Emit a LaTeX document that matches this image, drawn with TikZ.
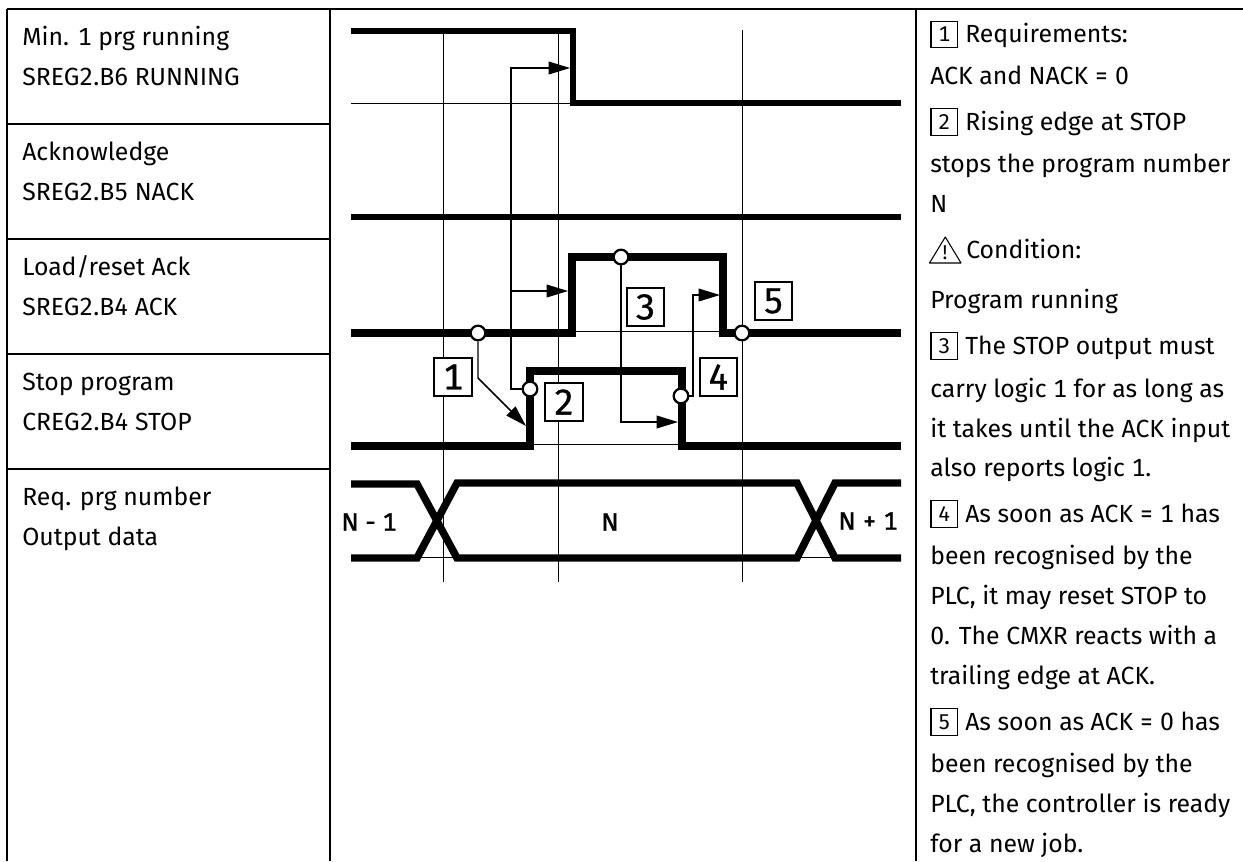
\documentclass[tikz,border=0pt]{standalone}
\usepackage{fontspec}
\setmainfont[Numbers=Monospaced]{Fira Sans}
\newfontfamily\medfont[FakeBold=1.4,Numbers=Monospaced]{Fira Sans}
\newfontfamily\tagfont[FakeBold=.8,Numbers=Monospaced]{Fira Sans}
\usetikzlibrary{arrows.meta}
\tikzset{
  tableline/.style={line width=1.6pt},
  gridline/.style={line width=.7pt},
  trace/.style={line width=5.6pt, miter limit=10},
  conn/.style={line width=1.1pt},
  txt/.style={anchor=base west, inner sep=0pt, font=\fontsize{18.6}{23}\selectfont},
  buslabel/.style={inner sep=0pt, font=\fontsize{19}{23}\medfont},
  pin/.style={circle, draw, fill=white, line width=1.7pt, inner sep=0pt, minimum size=11pt},
  tag/.style={draw, fill=white, line width=1.6pt, inner sep=0pt, minimum size=28pt, font=\fontsize{27}{27}\tagfont},
  smalltag/.style={draw, line width=.8pt, inner sep=0pt, minimum size=20pt, font=\fontsize{16}{16}\selectfont}
}
\begin{document}
\begin{tikzpicture}[x=.75pt, y=-.75pt, >={Triangle[length=16pt,width=9.5pt]}]
\useasboundingbox (0,0) rectangle (1243,861);
% table
\draw[tableline] (7,9) -- (1243,9);
\draw[tableline] (7,9) -- (7,861);
\draw[tableline] (330,9) -- (330,861);
\draw[tableline] (916,9) -- (916,861);
\foreach \y in {124,239,354,469} \draw[tableline] (7,\y) -- (330,\y);
% signal names
\node[txt] (running) at (22,45) {Min. 1 prg running};
\node[txt] (runningreg) at (22,85) {SREG2.B6 RUNNING};
\node[txt] (ack) at (22,160) {Acknowledge};
\node[txt] (ackreg) at (22,200) {SREG2.B5 NACK};
\node[txt] (load) at (22,275) {Load/reset Ack};
\node[txt] (loadreg) at (22,315) {SREG2.B4 ACK};
\node[txt] (stop) at (22,390) {Stop program};
\node[txt] (stopreg) at (22,430) {CREG2.B4 STOP};
\node[txt] (req) at (22,505) {Req. prg number};
\node[txt] (reqout) at (22,545) {Output data};
% time marks
\draw[gridline] (443,31) -- (443,582);
\draw[gridline] (558,31) -- (558,582);
\draw[gridline] (742,30) -- (742,582);
\draw[gridline] (351,103) -- (573,103);
\draw[gridline] (572,331) -- (723,331);
\draw[gridline] (530,444) -- (682,444);
\draw[gridline] (417,557) -- (457,557);
\draw[gridline] (797,557) -- (835,557);
% signals
\draw[trace, line width=4.9pt] (351,31) -- (573,31) -- (573,103) -- (901,103);
\draw[trace, line width=5.2pt] (351,217) -- (901,217);
\draw[trace] (351,333) -- (572,333) -- (572,257) -- (723,257) -- (723,333) -- (901,333);
\draw[trace] (351,446) -- (530,446) -- (530,371) -- (682,371) -- (682,446) -- (901,446);
\draw[trace] (351,484) -- (417,484) -- (457,558) -- (797,558) -- (835,483) -- (901,483);
\draw[trace] (351,558) -- (417,558) -- (457,483) -- (797,483) -- (835,558) -- (901,558);
\node[buslabel] (prev) at (369,522) {N - 1};
\node[buslabel] (cur) at (610,522) {N};
\node[buslabel] (next) at (868,521) {N + 1};
% events
\node[pin] (c1) at (478,333) {};
\node[pin] (c2) at (530,389) {};
\node[pin] (c3) at (621,257) {};
\node[pin] (c4) at (681,396) {};
\node[pin] (c5) at (742,333) {};
\coordinate (turn1) at (478,378);
\coordinate (tip1) at (526,426);
\coordinate (turn2) at (511,68);
\coordinate (tip2) at (570,68);
\coordinate (branch2) at (511,291);
\coordinate (tip2b) at (568,291);
\coordinate (tip3) at (678,422);
\coordinate (turn4) at (693,295);
\coordinate (tip4) at (720,295);
\draw[conn,->] (c1) -- (turn1) -- (tip1);
\draw[conn,->] (c2) -| (turn2) -- (tip2);
\draw[conn,->] (branch2) -- (tip2b);
\draw[conn,->] (c3) |- (tip3);
\draw[conn,->] (c4) -| (turn4) -- (tip4);
\node[tag] (t1) at (453,377) {1};
\node[tag] (t2) at (564,402) {2};
\node[tag] (t3) at (645.5,307) {3};
\node[tag] (t4) at (718.5,377) {4};
\node[tag] (t5) at (773.5,301) {5};
% notes
\node[smalltag] (s1) at (944.3,34.5) {1};
\node[txt] (n1) at (965,42.5) {Requirements:};
\node[txt] (n2) at (930,84) {ACK and NACK = 0};
\node[smalltag] (s2) at (944.3,122) {2};
\node[txt] (n3) at (965,130) {Rising edge at STOP};
\node[txt] (n4) at (930,172) {stops the program number};
\node[txt] (n5) at (930,212.5) {N};
\draw[line width=.8pt, line join=round] (945.3,237) -- (961,263) -- (929.5,263) -- cycle;
\node[inner sep=0pt, font=\fontsize{15}{15}\selectfont] (warn) at (945,253) {!};
\node[txt] (n6) at (966,258.5) {Condition:};
\node[txt] (n7) at (930,308) {Program running};
\node[smalltag] (s3) at (944.3,346) {3};
\node[txt] (n8) at (965,354) {The STOP output must};
\node[txt] (n9) at (930,397) {carry logic 1 for as long as};
\node[txt] (n10) at (930,437) {it takes until the ACK input};
\node[txt] (n11) at (930,476) {also reports logic 1.};
\node[smalltag] (s4) at (944.3,514) {4};
\node[txt] (n12) at (965,522) {As soon as ACK = 1 has};
\node[txt] (n13) at (930,564) {been recognised by the};
\node[txt] (n14) at (930,604) {PLC, it may reset STOP to};
\node[txt] (n15) at (930,644) {0. The CMXR reacts with a};
\node[txt] (n16) at (930,684) {trailing edge at ACK.};
\node[smalltag] (s5) at (944.3,722) {5};
\node[txt] (n17) at (965,730) {As soon as ACK = 0 has};
\node[txt] (n18) at (930,772) {been recognised by the};
\node[txt] (n19) at (930,812) {PLC, the controller is ready};
\node[txt] (n20) at (930,852) {for a new job.};
\end{tikzpicture}
\end{document}
